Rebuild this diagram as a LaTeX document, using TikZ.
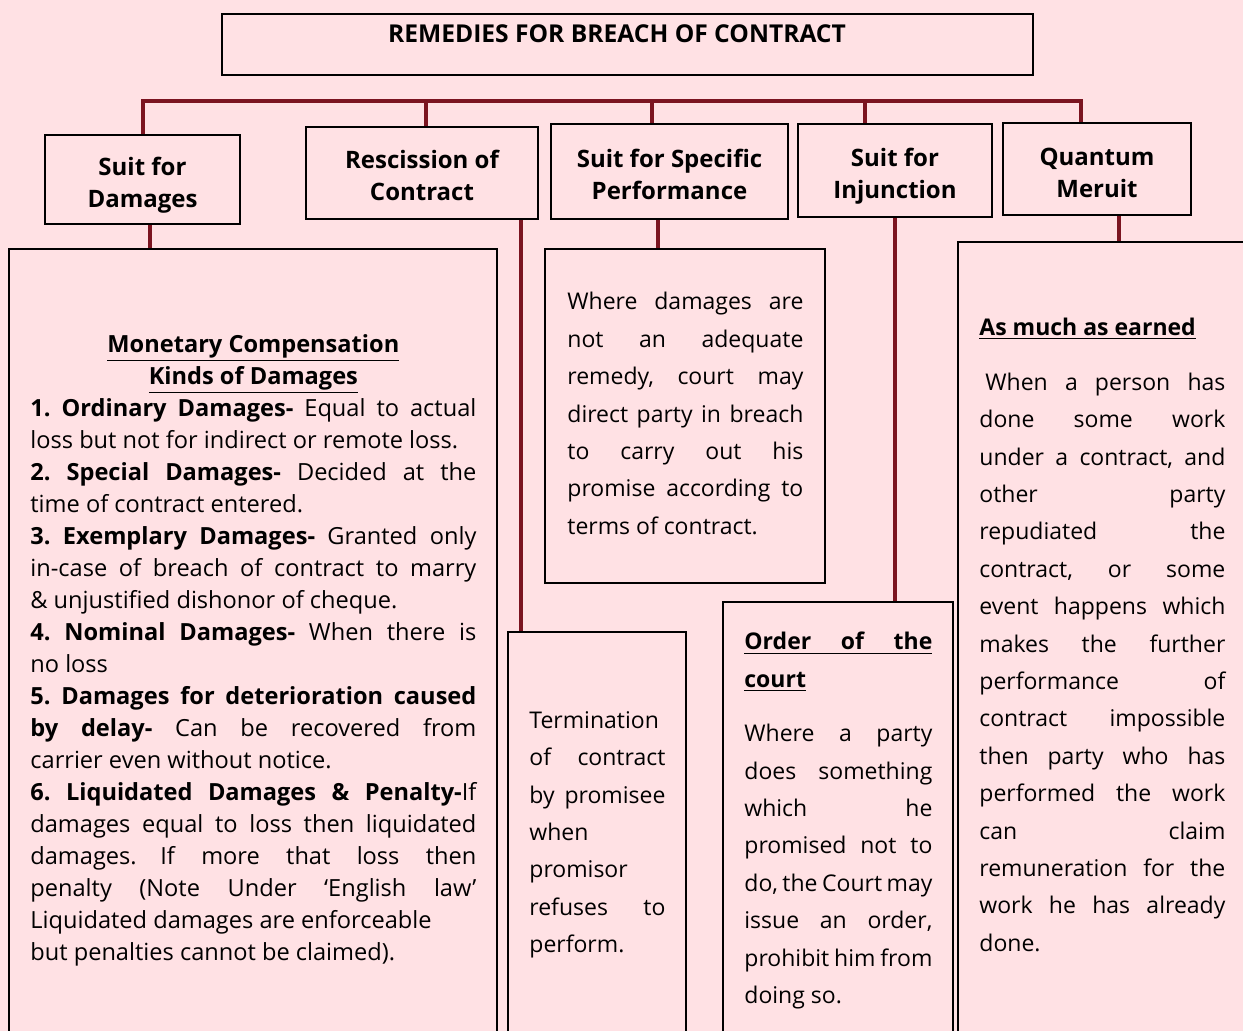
\documentclass[tikz,border=0pt]{standalone}
\usepackage{fontspec}
\setmainfont{Open Sans}
\usetikzlibrary{fit}
\definecolor{bg}{HTML}{FFE1E4}
\definecolor{wine}{HTML}{7B1420}
\frenchspacing
\tikzset{
  box/.style={draw=black,line width=1.2pt,inner sep=0pt},
  head/.style={font=\bfseries\fontsize{12}{16}\selectfont,align=center,inner sep=0pt},
  txt/.style={inner sep=0pt,anchor=north west,align=justify},
  body/.style={font=\fontsize{11.5}{18.7}\selectfont},
  link/.style={draw=wine,line width=2pt},
}
\begin{document}
\begin{tikzpicture}[x=0.5pt,y=-0.5pt]
  \fill[bg] (0,0) rectangle (1243,1031);
  \useasboundingbox (0,0) rectangle (1243,1031);
  \clip (0,0) rectangle (1243,1031);
  % headings
  \node[box,fit={(222,14) (1033,75)}] (title) {};
  \node[anchor=base,font=\bfseries\fontsize{12.3}{14}\selectfont] (titletxt) at (617,43) {REMEDIES FOR BREACH OF CONTRACT};
  \node[box,fit={(45,135) (240,224)}] (dam) {};
  \node[box,fit={(306,127) (538,219)}] (resc) {};
  \node[box,fit={(551,124) (788,219)}] (spec) {};
  \node[box,fit={(798,124) (992,217)}] (inj) {};
  \node[box,fit={(1003,123) (1191,215)}] (qm) {};
  \node[head] (damhd) at ([yshift=-3pt]dam.center) {Suit for\\Damages};
  \node[head] (reschd) at ([yshift=-1pt]resc.center) {Rescission of\\Contract};
  \node[head] (spechd) at ([yshift=-1.5pt]spec.center) {Suit for Specific\\Performance};
  \node[head] (injhd) at ([yshift=-3pt]inj.center) {Suit for\\Injunction};
  \node[head] (qmhd) at ([yshift=-2pt]qm.center) {Quantum\\Meruit};
  % detail boxes
  \node[box,fit={(9,249) (497,1060)}] (dambox) {};
  \node[box,fit={(508,632) (686,1060)}] (rescbox) {};
  \node[box,fit={(545,249) (825,583)}] (specbox) {};
  \node[box,fit={(723,602) (953,1060)}] (injbox) {};
  \node[box,fit={(958,242) (1260,1060)}] (qmbox) {};
  % links
  \coordinate (busl) at (143,101);
  \coordinate (busr) at (1081,101);
  \draw[link] (busl |- dam.north) -- (busl) -- (busr) -- (busr |- qm.north);
  \foreach \n/\d in {resc/2pt,spec/-8.75pt,inj/-15pt}
    \draw[link] ([xshift=\d]\n.north) -- ([xshift=\d]\n.north |- busl);
  \foreach \n/\m/\d in {dam/dambox/3.75pt,resc/rescbox/49.5pt,spec/specbox/-5.75pt,inj/injbox/0pt,qm/qmbox/11pt}
    \draw[link] ([xshift=\d]\n.south) -- ([xshift=\d]\n.south |- \m.north);
  % texts
  \node[txt,text width=223pt,font=\fontsize{11.8}{16}\selectfont] (damtxt) at (30,334) {%
    {\centering\bfseries\underline{Monetary Compensation}\\\underline{Kinds of Damages}\par}
    \textbf{1. Ordinary Damages-} Equal to actual\linebreak loss but not for indirect or remote loss.\par
    \textbf{2. Special Damages-} Decided at the\linebreak time of contract entered.\par
    \textbf{3. Exemplary Damages-} Granted only\linebreak in-case of breach of contract to marry\linebreak \& unjustified dishonor of cheque.\par
    \textbf{4. Nominal Damages-} When there is\linebreak no loss\par
    \textbf{5. Damages for deterioration caused\linebreak by delay-} Can be recovered from\linebreak carrier even without notice.\par
    \textbf{6. Liquidated Damages \& Penalty-}If\linebreak damages equal to loss then liquidated\linebreak damages.\quad If more that loss then\linebreak penalty (Note Under ‘English law’\linebreak Liquidated damages are enforceable\newline but penalties cannot be claimed).};
  \node[txt,body,text width=118pt] (spectxt) at (567,292) {%
    Where damages are\linebreak not an adequate\linebreak remedy, court may\linebreak direct party in breach\linebreak to carry out his\linebreak promise according to\linebreak terms of contract.};
  \node[txt,body,text width=68pt] (resctxt) at (529,711) {%
    Termination\newline of contract\linebreak by promisee\linebreak when\newline promisor\newline refuses to\linebreak perform.};
  \node[txt,body,text width=94pt] (injtxt) at (744,632) {%
    \underline{\makebox[94pt][s]{\bfseries Order of the}}\newline\underline{\textbf{court}}\par\vspace{8.5pt}
    Where a party\linebreak does something\linebreak which he\linebreak promised not to\linebreak do, the Court may\linebreak issue an order,\linebreak prohibit him from\linebreak doing so.};
  \node[txt,body,text width=123pt] (qmtxt) at (979,318) {%
    \underline{\textbf{As much as earned}}\par\vspace{8.5pt}
    \hspace{3pt}When a person has\linebreak done some work\linebreak under a contract, and\linebreak other party\linebreak repudiated the\linebreak contract, or some\linebreak event happens which\linebreak makes the further\linebreak performance of\linebreak contract impossible\linebreak then party who has\linebreak performed the work\linebreak can claim\linebreak remuneration for the\linebreak work he has already\linebreak done.};
\end{tikzpicture}
\end{document}
